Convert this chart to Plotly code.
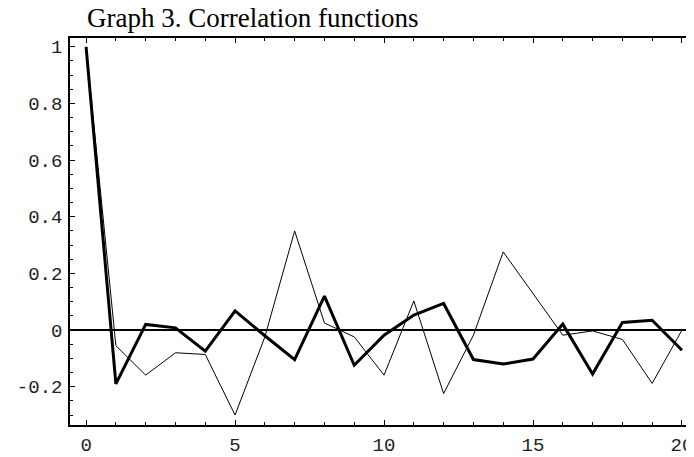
import plotly.graph_objects as go

lags = list(range(21))
corr_thick = [1.0, -0.19, 0.02, 0.008, -0.074, 0.068, -0.02, -0.104, 0.12, -0.124,
              -0.018, 0.053, 0.094, -0.104, -0.12, -0.102, 0.021, -0.155, 0.027, 0.035, -0.071]
corr_thin = [1.0, -0.055, -0.159, -0.08, -0.086, -0.30, -0.024, 0.35, 0.025, -0.024,
             -0.159, 0.103, -0.224, -0.018, 0.276, 0.13, -0.018, -0.003, -0.033, -0.188, 0.0]

x_ticks = [0, 5, 10, 15, 20]
y_ticks = [-0.2, 0, 0.2, 0.4, 0.6, 0.8, 1]
y_labels = ["-0.2", "0", "0.2", "0.4", "0.6", "0.8", "1"]

fig = go.Figure()
fig.add_trace(go.Scatter(x=lags, y=corr_thin, mode="lines",
                         line=dict(color="black", width=1)))
fig.add_trace(go.Scatter(x=lags, y=corr_thick, mode="lines",
                         line=dict(color="black", width=3)))

mono = dict(family="Liberation Mono", size=19, color="#222")

# page body adds an 8px offset, so the figure is 8px smaller on each side
fig.update_layout(
    width=686, height=449,
    margin=dict(l=62, r=1, t=30, b=32),
    paper_bgcolor="white", plot_bgcolor="white",
    showlegend=False,
    title=dict(text="Graph 3. Correlation functions", x=79/686, xanchor="left",
               y=1, yanchor="top",
               font=dict(family="Liberation Serif", size=27, color="black")),
    xaxis=dict(range=[-0.54, 20.37], tickvals=x_ticks, ticks="inside", ticklen=5,
               tickcolor="black", showgrid=False, zeroline=False, automargin=False,
               showline=True, linecolor="black", linewidth=1.5, mirror="ticks",
               tickfont=mono, ticklabelstandoff=1,
               minor=dict(dtick=1, ticks="inside", ticklen=3, tickcolor="black")),
    yaxis=dict(range=[-0.335, 1.031], tickvals=y_ticks, ticktext=y_labels,
               ticks="inside", ticklen=5, tickcolor="black", showgrid=False,
               zeroline=True, zerolinecolor="black", zerolinewidth=1.5, automargin=False,
               showline=True, linecolor="black", linewidth=1.5, mirror="ticks",
               tickfont=mono, ticklabelstandoff=2,
               minor=dict(dtick=0.05, ticks="inside", ticklen=3, tickcolor="black")),
)

fig.write_html("out.html")
